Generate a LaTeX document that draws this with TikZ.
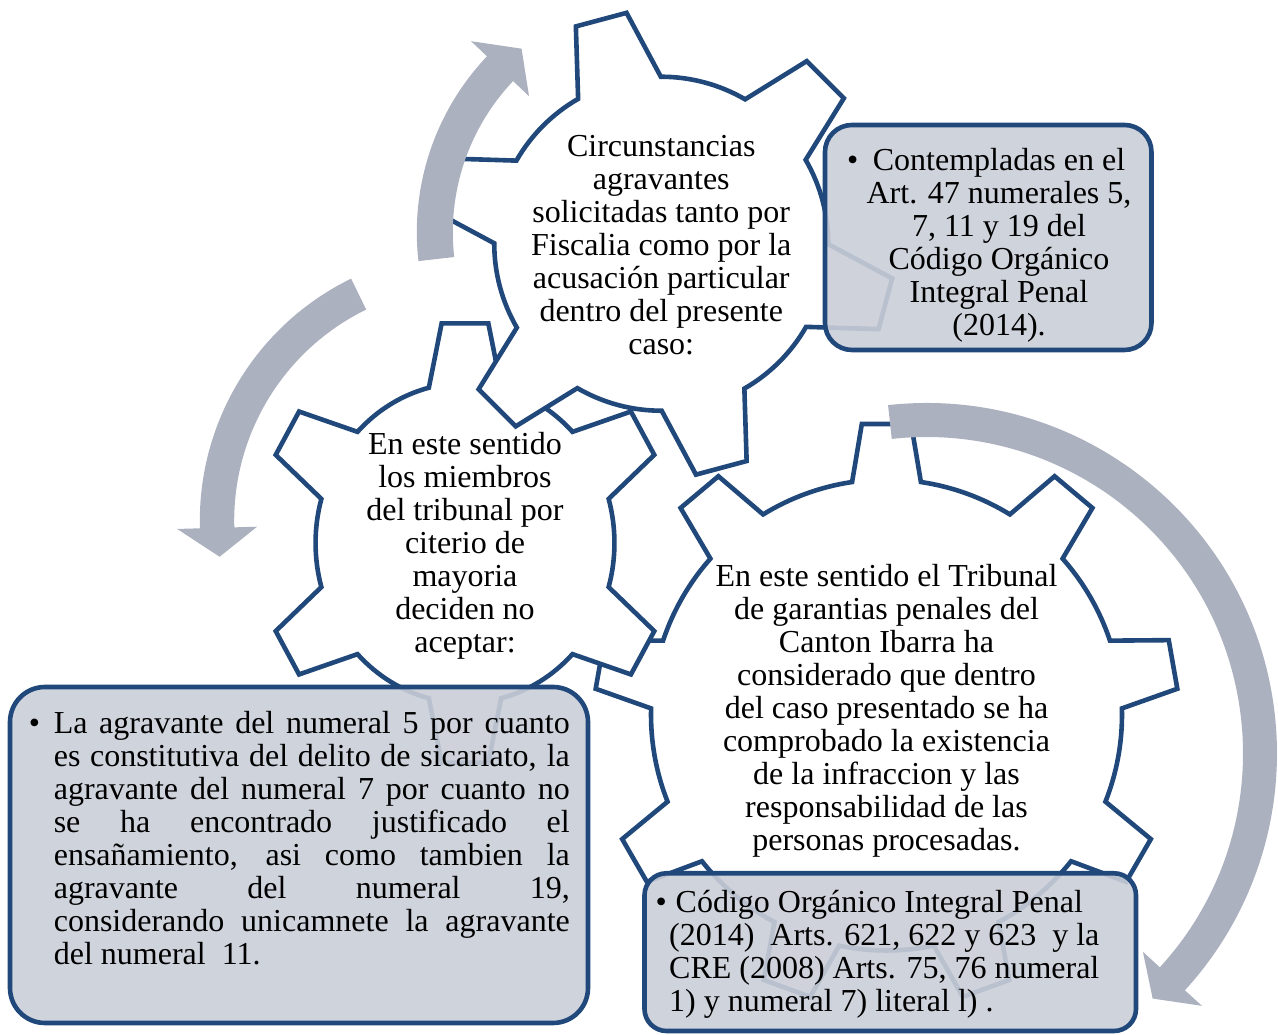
\documentclass[tikz,border=0pt]{standalone}
\usepackage{fontspec}
\setmainfont{Liberation Serif}
\definecolor{gearblue}{RGB}{32,72,122}
\definecolor{arrowgray}{RGB}{172,177,191}
\definecolor{boxgray}{RGB}{202,206,216}
% gear: [options](centre)(teeth:first tooth:root r:tip r)(tip half angle:base half angle)
\def\gear[#1](#2,#3)(#4:#5:#6:#7)(#8:#9){\draw[gearline,shift={(#2,#3)},#1] ({#5-#9}:#6)
  \foreach \gi in {1,...,#4}{ -- ({#5+(\gi-1)*360/#4-#8}:#7) -- ({#5+(\gi-1)*360/#4+#8}:#7)
  -- ({#5+(\gi-1)*360/#4+#9}:#6) arc[start angle={#5+(\gi-1)*360/#4+#9}, end angle={#5+\gi*360/#4-#9}, radius=#6] } -- cycle;}
% round arrow: (centre)(mid r:half width)(tail angle:head angle:tip angle)
\def\carrow(#1,#2)(#3:#4)(#5:#6:#7){\fill[arrowfill,shift={(#1,#2)}] ({#5}:{#3+#4}) arc[start angle=#5, end angle=#6, radius={#3+#4}]
  -- ({#6}:{#3+40}) -- ({#7}:#3) -- ({#6}:{#3-40}) -- ({#6}:{#3-#4}) arc[start angle=#6, end angle=#5, radius={#3-#4}] -- cycle;}

\begin{document}
\begin{tikzpicture}[x=1pt,y=1pt,
    gearline/.style={draw=gearblue, line width=4.6pt, fill=white},
    arrowfill/.style={fill=arrowgray},
    infobox/.style={draw=gearblue, line width=4.6pt, fill=boxgray, fill opacity=0.9},
    geartext/.style={align=center, inner sep=0pt, font=\fontsize{32}{33}\selectfont},
    boxtext/.style={inner sep=0pt, font=\fontsize{32}{33}\selectfont}]
	%%%%% START %%%%%
	\useasboundingbox (0,0) rectangle (1278,1035);

	\gear[](886.5,320)(9:90:235.5:292)(4.85:8.4)
	\gear[xscale=0.934](465,492)(6:30:160:221)(6.5:14)
	\gear[](661.25,791.25)(6:45:167:233.5)(6.45:14.85)

	\carrow(672.3,802.8)(237.5:18)(186.5:136.5:129.4)
	\carrow(469.2,514.2)(252.2:17.2)(116:181.6:188.2)
	\carrow(926.5,281.5)(333.5:17)(96.3:-42.5:-47.3)

	\draw[infobox, rounded corners=27pt] (825,685) rectangle (1151.5,910);
	\draw[infobox, rounded corners=35pt] (10,12) rectangle (588,348);
	\draw[infobox, rounded corners=22pt] (644.5,4) rectangle (1136,161.7);

	\node[geartext] (solicitadas) at (661.25,789.7) {Circunstancias\\agravantes\\solicitadas tanto por\\Fiscalia como por la\\acusación particular\\dentro del presente\\caso:};
	\node[geartext] (mayoria) at (465,489) {En este sentido\\los miembros\\del tribunal por\\citerio de\\mayoria\\deciden no\\aceptar:};
	\node[geartext] (tribunal) at (886.5,324) {En este sentido el Tribunal\\de garantias penales del\\Canton Ibarra ha\\considerado que dentro\\del caso presentado se ha\\comprobado la existencia\\de la infraccion y las\\responsabilidad de las\\personas procesadas.};

	\node[boxtext, align=center] (contempladas) at (999,790) {\makebox[0pt][r]{\textbullet\hspace{14.4pt}}Contempladas en el\\Art. 47 numerales 5,\\7, 11 y 19 del\\Código Orgánico\\Integral Penal\\(2014).};
	\node[boxtext, text width=516pt, align=justify, anchor=north west] (agravante) at (53.6,324.2) {\noindent\hyphenpenalty=10000\makebox[0pt][r]{\textbullet\hspace{13.6pt}}La agravante del numeral 5 por cuanto\linebreak es constitutiva del delito de sicariato, la\linebreak agravante del numeral 7 por cuanto no\linebreak se ha encontrado justificado el\linebreak ensañamiento, asi como tambien la\linebreak agravante del numeral 19,\linebreak considerando unicamnete la agravante\linebreak del numeral~ 11.};
	\node[boxtext, align=left, anchor=north west] (codigo) at (669,144.7) {\hspace*{-13.5pt}\textbullet\hspace{8.8pt}Código Orgánico Integral Penal\\(2014)~ Arts. 621, 622 y 623~ y la\\CRE (2008) Arts. 75, 76 numeral\\1) y numeral 7) literal l) .};
	%%%%% END %%%%%
\end{tikzpicture}
\end{document}
